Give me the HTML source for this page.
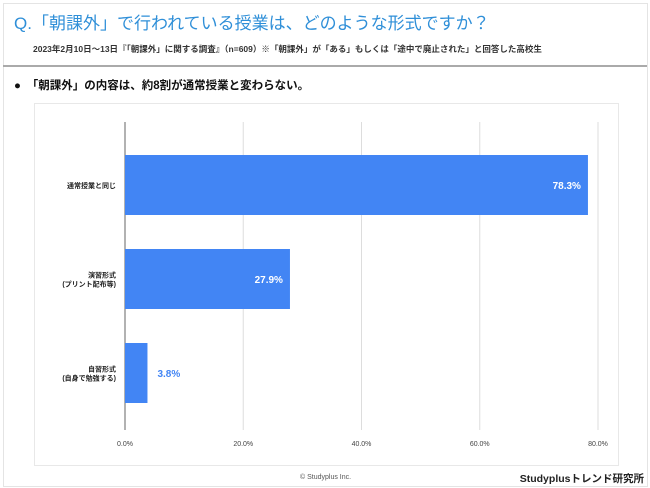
<!DOCTYPE html>
<html><head><meta charset="utf-8"><style>
body{margin:0;width:650px;height:488px;background:#fff;overflow:hidden;font-family:"Liberation Sans","Noto Sans CJK JP",sans-serif;position:relative}
.a{position:absolute;white-space:nowrap}
</style></head><body>
<div class="a" style="left:3px;top:3px;width:643px;height:482px;border:1px solid #e4e4e4"></div>
<div class="a" style="left:14px;top:9px;font-size:17px;color:#2f8fd8">Q.「朝課外」で行われている授業は、どのような形式ですか？</div>
<div class="a" style="left:33px;top:43px;font-size:8.5px;color:#333;font-weight:bold">2023年2月10日～13日『「朝課外」に関する調査』（n=609）※「朝課外」が「ある」もしくは「途中で廃止された」と回答した高校生</div>
<div class="a" style="left:3px;top:65px;width:644px;height:2px;background:#aaa"></div>
<div class="a" style="left:14px;top:77px;font-size:11.5px;color:#111;font-weight:bold">●　「朝課外」の内容は、約8割が通常授業と変わらない。</div>
<div class="a" style="left:34px;top:103px;width:583px;height:361px;border:1px solid #e8e8e8"></div>
<svg class="a" style="left:0;top:0" width="650" height="488" id="chart"></svg>
<div class="a" style="left:300px;top:474px;font-size:7px;color:#555">© Studyplus Inc.</div>
<div class="a" style="right:6px;top:471px;font-size:10.5px;font-weight:bold;color:#222">Studyplusトレンド研究所</div>
<script>
const categories=[["通常授業と同じ"],["演習形式","(プリント配布等)"],["自習形式","(自身で勉強する)"]];
const values=[78.3,27.9,3.8];
const ticks=[0,20,40,60,80];
const svg=document.getElementById('chart');
const NS='http://www.w3.org/2000/svg';
const x0=125,x1=598,xmax=80;
const xs=v=>x0+(x1-x0)*v/xmax;
const bandTop=[155,249,343],bh=60;
function mk(t,a,txt){const e=document.createElementNS(NS,t);for(const k in a)e.setAttribute(k,a[k]);if(txt!=null)e.textContent=txt;svg.appendChild(e);return e;}
ticks.forEach(t=>{
 const g=mk('line',{x1:xs(t),x2:xs(t),y1:122,y2:430,stroke:t===0?'#666':'#ddd','stroke-width':1});
 
 
 const l=mk('text',{x:xs(t),y:446,'font-size':7,'text-anchor':'middle',fill:'#444'},t.toFixed(1)+'%');
 
 
});
values.forEach((v,i)=>{
 const y=bandTop[i];
 const r=mk('rect',{x:x0,y:y,width:xs(v)-x0,height:bh,fill:'#4285f4'});
 
 
 const inside=xs(v)-x0>40;
 const t=mk('text',{x:inside?xs(v)-7:xs(v)+10,y:y+bh/2+4,'font-size':10,'font-weight':'bold','text-anchor':inside?'end':'start',fill:inside?'#fff':'#4285f4'},v.toFixed(1)+'%');
 
 
 const lines=categories[i];
 lines.forEach((s,j)=>{
  const c=mk('text',{x:116,y:y+bh/2+3+(j-(lines.length-1)/2)*9,'font-size':7,'font-weight':'bold','text-anchor':'end',fill:'#222'},s);
  
  
 });
});
</script>
</body></html>
